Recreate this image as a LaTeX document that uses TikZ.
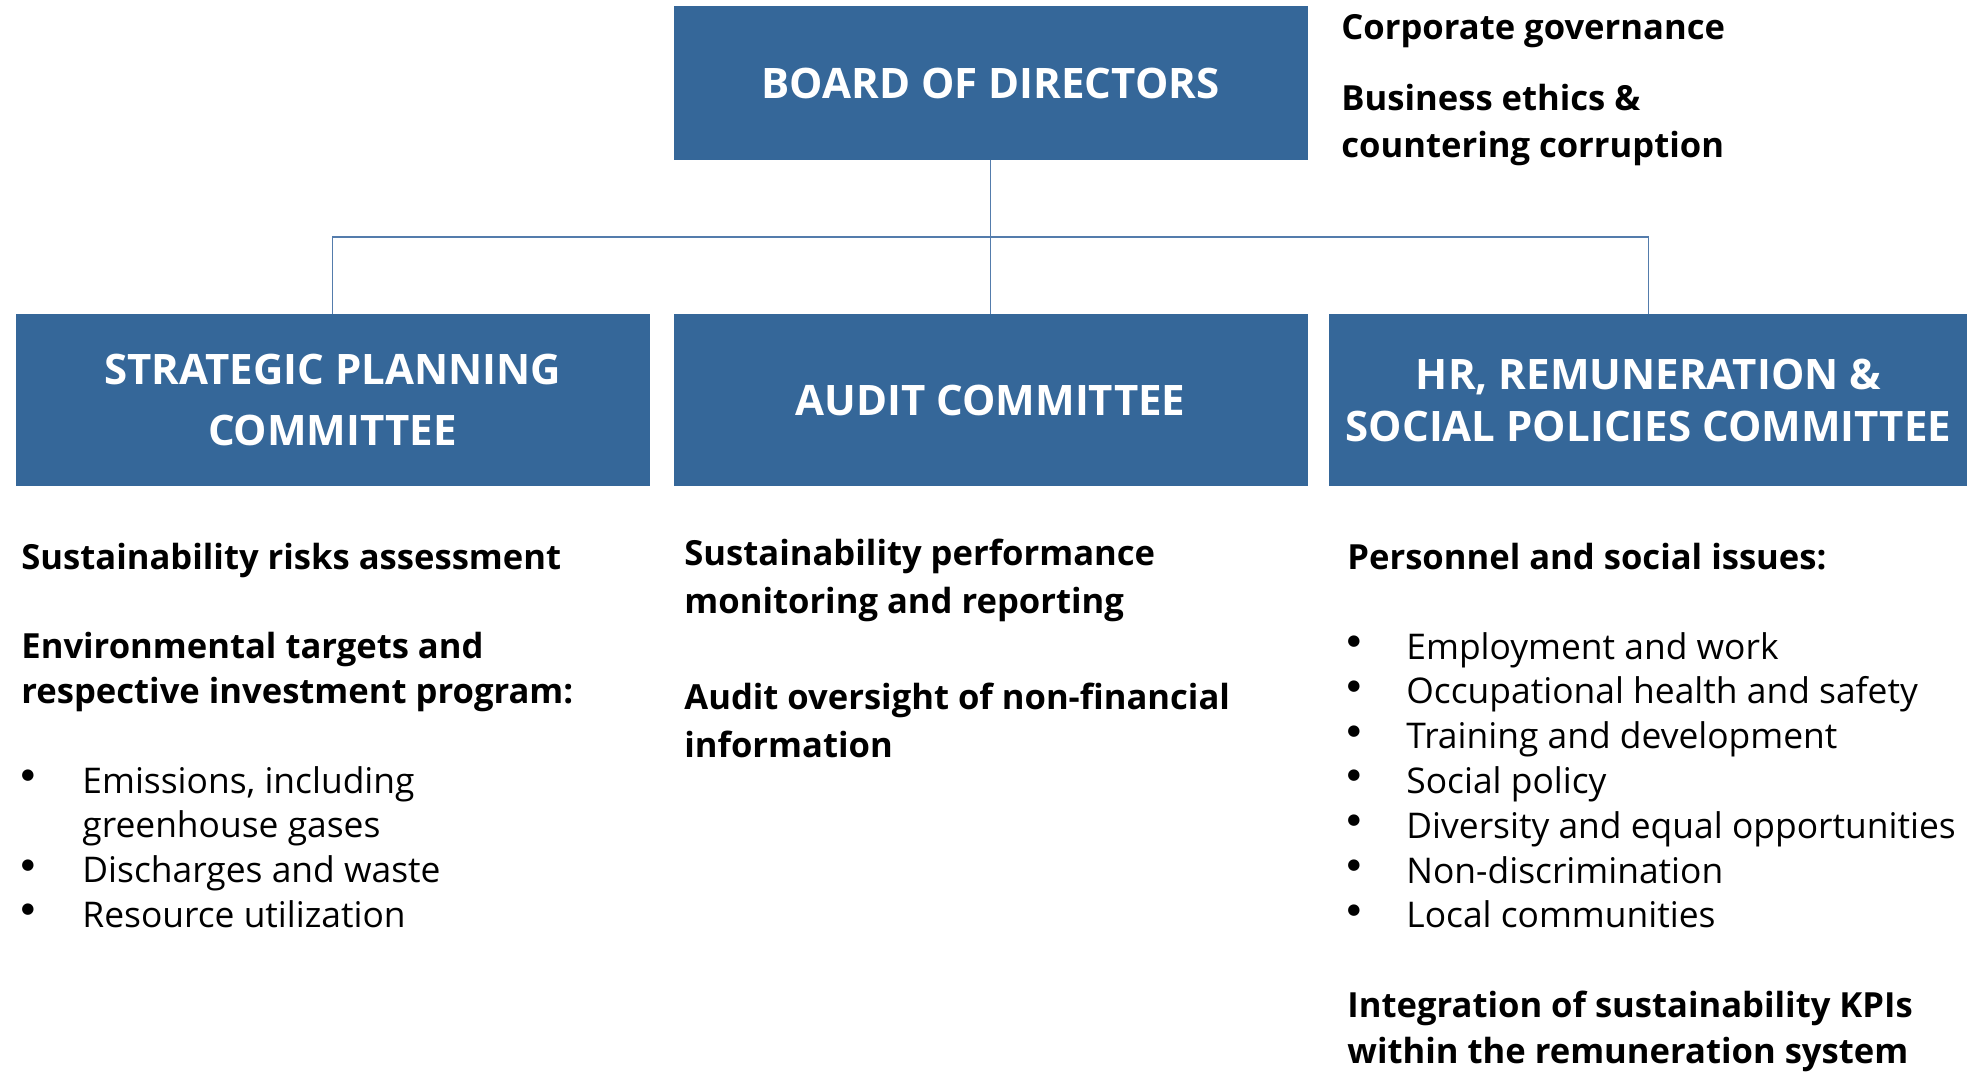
\documentclass[tikz,border=0pt]{standalone}
\usepackage{fontspec}
\setmainfont{Open Sans}
\newfontfamily\dotfont{DejaVu Sans}
\usepackage{array}
\usepackage{xcolor}
\usetikzlibrary{positioning}
\definecolor{boardblue}{RGB}{53,103,153}
\definecolor{linkblue}{RGB}{84,124,172}
\newcommand{\bul}{\raisebox{6.8pt}{\dotfont\fontsize{7.5}{7.5}\selectfont ●}}

\begin{document}
\begin{tikzpicture}[x=0.5pt,y=-0.5pt,node distance=12pt]
	\tikzstyle{box}
	  =[rectangle, fill=boardblue, text=white, 
	  minimum width=317pt, minimum height=86pt, inner sep=0pt,
	  outer sep=0pt, align=center,
	  font=\bfseries\fontsize{21}{30.5}\selectfont]
	\tikzstyle{topbox}
	  =[box, minimum height=77pt]
	\tikzstyle{note}
	  =[inner sep=0pt, anchor=base west, align=left,
	  font=\bfseries\fontsize{17.3}{22.5}\selectfont]
	\tikzstyle{bullets}
	  =[inner sep=0pt, anchor=base west,
	  font=\fontsize{17.7}{22.4}\selectfont]
	\tikzstyle{link}
	  =[draw=linkblue, line width=0.8pt]

	\useasboundingbox (0,0) rectangle (1967,1073);

	% committees
	\node[topbox] (board) at (990.5,83) {BOARD OF DIRECTORS};
	\node[box] (audit) 
	  [below=77pt of board] {AUDIT COMMITTEE};
	\node[box] (plan) 
	  [left=12pt of audit] {STRATEGIC PLANNING\\COMMITTEE};
	\node[box, minimum width=320pt, 
	  font=\bfseries\fontsize{21}{26}\selectfont] (hr) 
	  [right=10.5pt of audit] {HR, REMUNERATION \&\\SOCIAL POLICIES COMMITTEE};

	% board duties (base = last line)
	\node[note] (corp) at (1341,39) {Corporate governance};
	\node[note, font=\bfseries\fontsize{17.3}{23.5}\selectfont] (ethics) 
	  at (1341,157) {Business ethics \&\\countering corruption};

	% strategic planning duties
	\node[note] (risks) at (21,569) {Sustainability risks assessment};
	\node[note] (env) at (21,703) 
	  {Environmental targets and\\respective investment program:};
	\node[bullets] (envlist) at (21,793) 
	  {\begin{tabular}[t]{@{}p{30.5pt}@{}l@{}}
	  \bul & Emissions, including\\
	   & greenhouse gases\\
	  \bul & Discharges and waste\\
	  \bul & Resource utilization
	  \end{tabular}};

	% audit duties
	\node[note, font=\bfseries\fontsize{17.3}{24}\selectfont] (perf) 
	  at (684,613) {Sustainability performance\\monitoring and reporting};
	\node[note, font=\bfseries\fontsize{17.3}{24}\selectfont] (oversight) 
	  at (684,757) {Audit oversight of non-financial\\information};

	% hr duties
	\node[note] (staff) at (1347,569) {Personnel and social issues:};
	\node[bullets] (stafflist) at (1347,659) 
	  {\begin{tabular}[t]{@{}p{29.5pt}@{}l@{}}
	  \bul & Employment and work\\
	  \bul & Occupational health and safety\\
	  \bul & Training and development\\
	  \bul & Social policy\\
	  \bul & Diversity and equal opportunities\\
	  \bul & Non-discrimination\\
	  \bul & Local communities
	  \end{tabular}};
	\node[note, font=\bfseries\fontsize{17.3}{23}\selectfont] (kpi) 
	  at (1347,1063) {Integration of sustainability KPIs\\within the remuneration system};

	% connectors
	\path (board.south) -- (audit.north) coordinate[midway] (bus);
	\draw[link] (board) -- (audit);
	\draw[link] (plan.north) |- (bus) -| (hr.north);
\end{tikzpicture}
\end{document}
